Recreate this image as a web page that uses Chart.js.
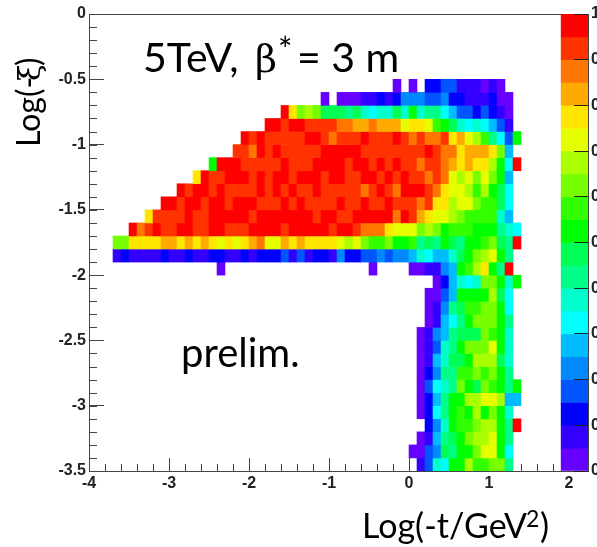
<!DOCTYPE html>
<html><head><meta charset="utf-8">
<script src="https://cdn.jsdelivr.net/npm/chart.js@4"></script>
<style>html,body{margin:0;padding:0;background:#fff;overflow:hidden}canvas{display:block}</style>
</head><body><canvas id="c" width="597" height="547"></canvas>
<script>
// Colour-bin index of each cell; first entry of each row = first column index (bins of 0.1 from -4)
const row05=[38,0,null,0,null,2,2,3,3,1,1,1,0,1,0];
const row06=[29,0,null,0,0,0,1,1,2,1,2,4,4,4,3,3,4,2,2,1,1,1,2,0,0];
const row07=[24,19,15,12,13,12,9,9,9,8,9,7,6,7,7,9,7,10,7,8,8,6,5,3,3,2,3,2,1,0];
const row08=[22,19,19,18,19,19,18,18,18,18,17,17,16,16,17,16,16,16,14,15,15,14,11,10,9,7,6,7,6,5,3,1];
const row09=[19,19,18,19,18,18,18,18,18,19,19,18,17,18,18,18,19,18,18,18,19,18,17,18,17,17,18,15,16,14,13,11,8,6,3,10];
const row10=[18,18,18,17,19,18,19,18,18,18,18,18,19,19,19,19,19,18,18,18,18,18,18,18,18,19,18,17,17,15,16,16,16,15,12,5];
const row11=[15,10,19,19,19,18,18,18,18,18,19,18,18,18,19,19,19,19,18,19,19,18,19,18,19,18,18,17,18,18,17,16,15,16,15,15,13,10,6,19];
const row12=[13,15,19,18,18,19,19,19,18,19,18,19,19,18,19,19,19,18,19,19,18,18,19,19,18,19,18,19,18,18,17,18,17,14,13,14,12,14,12,10,5];
const row13=[11,19,18,19,19,18,19,18,18,18,18,19,18,19,18,19,18,18,19,18,18,18,18,18,17,18,19,18,17,19,19,19,18,17,15,14,14,13,11,13,10,9,6];
const row14=[9,19,19,18,19,19,18,19,19,18,19,19,19,18,18,18,19,18,19,18,18,18,18,19,18,18,19,18,18,19,18,18,18,17,18,15,15,13,14,14,12,11,11,9,6];
const row15=[7,15,18,18,18,18,19,18,18,19,19,19,19,19,18,19,19,19,19,19,19,19,18,19,19,18,18,19,19,19,19,19,17,19,18,16,15,14,14,13,12,11,11,11,11,7,5];
const row16=[5,19,17,18,19,18,18,19,19,18,18,19,19,18,18,18,19,19,19,19,18,19,19,19,19,19,18,19,19,18,17,17,17,15,14,14,14,12,13,12,10,11,11,11,10,10,10,8,7,6];
const row17=[3,12,12,15,15,15,15,16,16,15,16,15,16,15,14,15,14,15,16,17,14,14,16,15,16,15,15,15,15,14,13,14,12,11,11,12,10,10,11,8,9,8,10,9,8,10,10,11,12,9,8,19];
const row18=[3,1,2,1,1,1,1,2,1,1,2,1,1,2,2,1,1,2,1,2,2,2,3,1,3,1,2,2,1,4,2,2,3,3,4,3,4,4,5,7,6,5,5,7,9,10,12,13,14,10,8];
const row19=[16,0,null,null,null,null,null,null,null,null,null,null,null,null,null,null,null,null,null,null,0,null,null,null,null,0,0,1,1,4,5,10,11,13,15,10,8,19];
const row20=[43,0,2,5,7,6,7,12,12,10,7,10];
const row21=[42,0,0,3,5,10,10,10,10,13,9,6];
const row22=[42,0,1,4,8,9,11,11,12,12,10,6];
const row23=[42,0,1,5,6,8,10,12,12,12,10,8];
const row24=[41,0,1,4,5,8,9,9,9,12,11,10,7];
const row25=[41,0,1,3,7,8,10,12,12,12,14,10,7];
const row26=[41,0,1,5,7,9,9,10,13,13,13,9,7];
const row27=[41,0,2,4,8,8,11,11,12,11,12,10,8];
const row28=[41,0,3,6,7,8,12,10,9,12,11,10,8,10];
const row29=[41,0,2,5,8,10,10,13,13,14,14,13,5,5];
const row30=[41,0,2,6,8,10,11,10,13,10,12,10,7];
const row31=[42,2,4,7,10,11,11,12,13,13,10,8,19];
const row32=[41,0,1,5,8,9,10,12,13,13,14,10,8];
const row33=[40,0,0,3,4,9,8,10,10,12,14,14,10,6];
const row34=[41,1,3,7,6,10,10,13,11,11,12,12,8];
const rowsByIndex={5:row05,6:row06,7:row07,8:row08,9:row09,10:row10,11:row11,12:row12,13:row13,14:row14,15:row15,16:row16,17:row17,18:row18,19:row19,20:row20,21:row21,22:row22,23:row23,24:row24,25:row25,26:row26,27:row27,28:row28,29:row29,30:row30,31:row31,32:row32,33:row33,34:row34};

const palette=['#6600ff','#3300ff','#0000ff','#0055ff','#0088ff','#00bbff','#00ffff','#00ffcc','#00ff88','#00ff55','#00ff00','#33ff00','#77ff00','#aaff00','#e6ff00','#ffe600','#ffaa00','#ff7700','#ff3300','#ff0000'];
const xTickLabels=['-4','-3','-2','-1','0','1','2'];
const yTickLabels=['0','-0.5','-1','-1.5','-2','-2.5','-3','-3.5'];
const zTickLabels=['0','0.1','0.2','0.3','0.4','0.5','0.6','0.7','0.8','0.9','1'];
const X_MIN=-4,X_MAX=2.2375,BAR_X=2.07;
const dark='#444';

const datasets=[];
Object.keys(rowsByIndex).forEach(k=>{
  const r=+k,row=rowsByIndex[k],pts=[],cols=[];
  row.slice(1).forEach((lv,i)=>{
    if(lv===null)return;
    const c=row[0]+i;
    pts.push({x:+(X_MIN+c/10+0.05).toFixed(2),y:[-(r+1)/10,-r/10]});
    cols.push(palette[lv]);
  });
  datasets.push({data:pts,backgroundColor:cols,yAxisID:'y',inflateAmount:0.3});
});
datasets.push({data:palette.map((_,i)=>({x:BAR_X,y:[i/20,(i+1)/20]})),backgroundColor:palette,yAxisID:'z',barThickness:27,inflateAmount:0.3});

const deco={id:'deco',
 beforeDatasetsDraw(ch){
  const {ctx,chartArea:a,scales:{x,y}}=ch;
  ctx.save();ctx.strokeStyle=dark;ctx.lineWidth=1;ctx.beginPath();
  for(let v=-4;v<2;v+=0.2){const p=Math.round(x.getPixelForValue(v))+.5;ctx.moveTo(p,a.bottom);ctx.lineTo(p,a.bottom-7);}
  for(let i=0;i<=35;i++){const p=Math.round(y.getPixelForValue(-i/10))+.5;ctx.moveTo(a.left,p);ctx.lineTo(a.left+8,p);}
  ctx.moveTo(a.left,a.top+.5);ctx.lineTo(a.right,a.top+.5);
  ctx.stroke();ctx.restore();
 },
 afterDraw(ch){
  const ctx=ch.ctx;ctx.save();ctx.fillStyle='#000';ctx.textBaseline='alphabetic';ctx.textAlign='left';
  const sans='Lato, "Open Sans", sans-serif';
  ctx.font='41px '+sans;ctx.fillText('5TeV,',143,72);
  ctx.font='38px "DejaVu Serif", serif';ctx.fillText('β',255,72);
  ctx.font='34px '+sans;ctx.fillText('*',278,62);
  ctx.font='41px '+sans;ctx.fillText('= 3 m',297,72);
  ctx.font='40px '+sans;ctx.fillText('prelim.',181,367);
  ctx.font='34px '+sans;ctx.fillText('Log(-t/GeV',362,538);
  ctx.font='23px '+sans;ctx.fillText('2',526,527);
  ctx.font='34px '+sans;ctx.fillText(')',540,538);
  ctx.translate(40,147);ctx.rotate(-Math.PI/2);
  ctx.font='32px '+sans;ctx.fillText('Log(-',0,0);
  ctx.font='30px "DejaVu Serif", serif';ctx.fillText('ξ',66,0);
  ctx.font='32px '+sans;ctx.fillText(')',81,0);
  ctx.restore();
 }};

function noPad(s){s.paddingTop=0;s.paddingBottom=0;s.paddingLeft=0;s.paddingRight=0;if(s._margins){s._margins.top=0;s._margins.bottom=0;}}

new Chart(document.getElementById('c'),{
 type:'bar',
 data:{datasets},
 plugins:[deco],
 options:{
  responsive:false,animation:false,
  layout:{autoPadding:false,padding:{top:14,left:0,right:0,bottom:0}},
  plugins:{legend:{display:false},tooltip:{enabled:false}},
  datasets:{bar:{grouped:false,barPercentage:1,categoryPercentage:1,borderWidth:0}},
  scales:{
   x:{type:'linear',position:'bottom',offset:false,min:X_MIN,max:X_MAX,
      afterFit(s){s.height=76;noPad(s)},
      grid:{offset:false,drawOnChartArea:false,tickLength:-13,color:dark,lineWidth:1},
      border:{color:dark,width:1},
      ticks:{stepSize:1,includeBounds:false,maxRotation:0,autoSkip:false,padding:16,color:'#222',
        font:{family:'"Liberation Sans Narrow","Liberation Sans",sans-serif',weight:'bold',size:16},
        callback:(v)=>{const i=Math.round(v)+4;return xTickLabels[i]}}},
   y:{type:'linear',position:'left',min:-3.5,max:0,
      afterFit(s){s.width=89;noPad(s)},
      grid:{drawOnChartArea:false,tickLength:-15,color:dark,lineWidth:1},
      border:{color:dark,width:1},
      ticks:{stepSize:0.5,includeBounds:false,autoSkip:false,padding:18,color:'#222',
        font:{family:'"Liberation Sans Narrow","Liberation Sans",sans-serif',weight:'bold',size:16},
        callback:(v)=>yTickLabels[Math.round(-v*2)]}},
   z:{type:'linear',position:'right',min:0,max:1,
      afterFit(s){s.width=9;noPad(s)},
      grid:{drawOnChartArea:false,tickLength:-14,color:'#222',lineWidth:1,z:1},
      border:{color:dark,width:1,z:1},
      ticks:{stepSize:0.1,includeBounds:false,autoSkip:false,padding:17,color:'#222',
        font:{family:'"Liberation Sans Narrow","Liberation Sans",sans-serif',weight:'bold',size:16},
        callback:(v)=>zTickLabels[Math.round(v*10)]}}
  }
 }
});
</script></body></html>
